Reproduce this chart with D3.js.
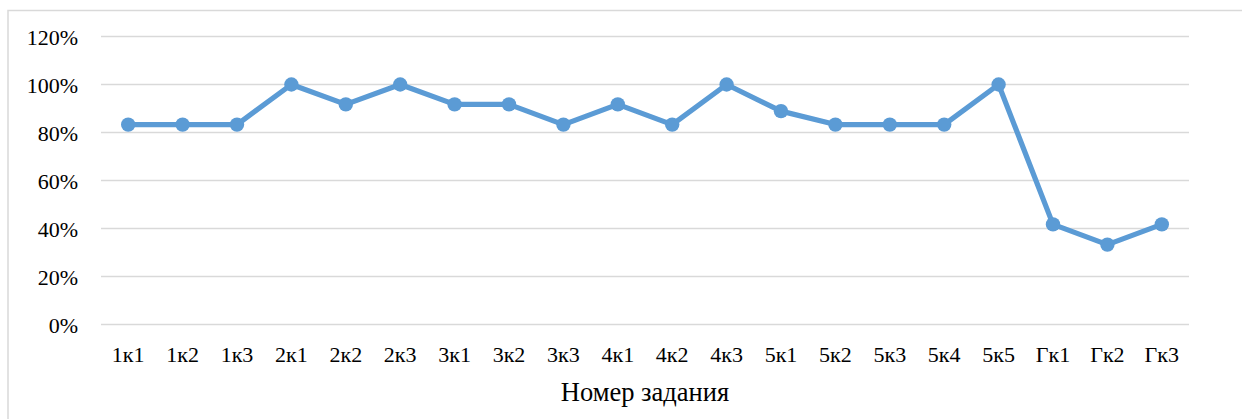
<!DOCTYPE html>
<html>
<head>
<meta charset="utf-8">
<script src="https://cdn.jsdelivr.net/npm/d3@7"></script>
<style>
body { margin: 0; background: #fff; }
text { font-family: "Liberation Serif", "Times New Roman", serif; fill: #000; }
</style>
</head>
<body>
<svg id="chart" width="1242" height="419"></svg>
<script>
var categories = ["1к1","1к2","1к3","2к1","2к2","2к3","3к1","3к2","3к3","4к1","4к2","4к3",
	"5к1","5к2","5к3","5к4","5к5","Гк1","Гк2","Гк3"];
var values = [0.833,0.833,0.833,1.0,0.917,1.0,0.917,0.917,0.833,0.917,0.833,1.0,
	0.889,0.833,0.833,0.833,1.0,0.417,0.333,0.417];
var yTicks = [0,0.2,0.4,0.6,0.8,1.0,1.2];
var xTitle = "Номер задания";

var svg = d3.select("#chart");
var plotLeft = 101, plotRight = 1189, plotTop = 36.5, plotBottom = 324.5;

// chart frame
svg.append("path")
	.attr("d", "M8,419 V10.5 H1242")
	.attr("fill", "none")
	.attr("stroke", "#d9d9d9")
	.attr("stroke-width", 1.5);

var x = d3.scalePoint().domain(categories).range([plotLeft, plotRight]).padding(0.5);
var y = d3.scaleLinear().domain([0, 1.2]).range([plotBottom, plotTop]);

svg.append("g").selectAll("line")
	.data(yTicks)
	.enter().append("line")
	.attr("x1", plotLeft).attr("x2", plotRight)
	.attr("y1", function(d) {return y(d);})
	.attr("y2", function(d) {return y(d);})
	.attr("stroke", "#d9d9d9")
	.attr("stroke-width", 1.5);

svg.append("g").selectAll("text")
	.data(yTicks)
	.enter().append("text")
	.attr("x", 78)
	.attr("y", function(d) {return y(d) + 8;})
	.attr("text-anchor", "end")
	.style("font-size", "22px")
	.text(function(d) {return Math.round(d * 100) + "%";});

svg.append("g").selectAll("text")
	.data(categories)
	.enter().append("text")
	.attr("x", function(d) {return x(d);})
	.attr("y", 362)
	.attr("text-anchor", "middle")
	.style("font-size", "22px")
	.text(function(d) {return d;});

svg.append("text")
	.attr("x", (plotLeft + plotRight) / 2)
	.attr("y", 401)
	.attr("text-anchor", "middle")
	.style("font-size", "26.5px")
	.text(xTitle);

var line = d3.line()
	.x(function(d, i) {return x(categories[i]);})
	.y(function(d) {return y(d);});

svg.append("path")
	.datum(values)
	.attr("d", line)
	.attr("fill", "none")
	.attr("stroke", "#5b9bd5")
	.attr("stroke-width", 5.2)
	.attr("stroke-linejoin", "round");

svg.append("g").selectAll("circle")
	.data(values)
	.enter().append("circle")
	.attr("cx", function(d, i) {return x(categories[i]);})
	.attr("cy", function(d) {return y(d);})
	.attr("r", 7.2)
	.attr("fill", "#5b9bd5");
</script>
</body>
</html>
